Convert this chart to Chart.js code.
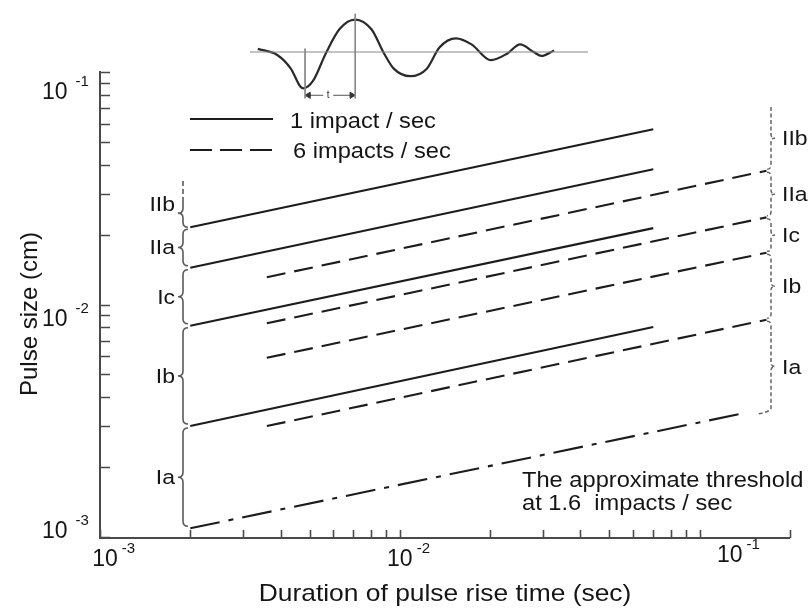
<!DOCTYPE html>
<html><head><meta charset="utf-8">
<script src="https://cdn.jsdelivr.net/npm/chart.js@4.4.1/dist/chart.umd.min.js"></script>
<style>
html,body{margin:0;padding:0;background:#fff;}
#wrap{position:relative;width:810px;height:608px;overflow:hidden;}
#mainWrap{position:absolute;left:0;top:0;width:810px;height:608px;}
#insetWrap{position:absolute;left:245px;top:0;width:350px;height:110px;}
</style></head><body>
<div id="wrap">
  <div id="mainWrap"><canvas id="main"></canvas></div>
  <div id="insetWrap"><canvas id="inset"></canvas></div>
</div>
<script>
// ================= DATA =================
const xRange = [0.001, 0.2];
const yRange = [0.001, 0.1];
const xTickValues = [0.001,0.002,0.003,0.004,0.005,0.006,0.007,0.008,0.009,
                     0.01,0.02,0.03,0.04,0.05,0.06,0.07,0.08,0.09,0.1,0.2];
const yTickValues = [0.001,0.002,0.003,0.004,0.005,0.006,0.007,0.008,0.009,
                     0.01,0.02,0.03,0.04,0.05,0.06,0.07,0.08,0.09,0.1];
const xLabelValues = [0.001, 0.01, 0.1];
const yLabelValues = [0.001, 0.01, 0.1];
const labelExponents = ['-3', '-2', '-1'];

const seriesNames = ['1 impact / sec', '6 impacts / sec'];
const zoneNames = ['Ia', 'Ib', 'Ic', 'IIa', 'IIb'];

// 1 impact / sec (solid) — start and end of each line
const solidX   = [0.002, 0.07];
const solidIb  = [0.0030, 0.0080];
const solidIc  = [0.0081, 0.0213];
const solidIIa = [0.0144, 0.0382];
const solidIIb = [0.0215, 0.0567];

// 6 impacts / sec (dashed)
const dashedX   = [0.0036, 0.167];
const dashedIb  = [0.0030, 0.0086];
const dashedIc  = [0.0059, 0.0167];
const dashedIIa = [0.0083, 0.0237];
const dashedIIb = [0.0131, 0.0376];

// threshold at 1.6 impacts / sec (dash-dot)
const thresholdX = [0.002, 0.139];
const thresholdY = [0.00109, 0.0034];
const thresholdText = ['The approximate threshold', 'at 1.6  impacts / sec'];

// upper ends of the zone brackets
const leftZoneTop = 0.034;
const rightZoneTop = 0.0707;

const axisTitleX = 'Duration of pulse rise time (sec)';
const axisTitleY = 'Pulse size (cm)';

// inset: pulse waveform (time, amplitude)
const waveT = [0.8, 2.8, 4.2, 5.2, 5.5, 6.5, 7.8, 9.2, 10.8, 12.5, 13.8, 14.8, 16.5,
               18.2, 19.5, 21.2, 22.8, 24.8, 26.5, 27.8, 29.2, 30.0, 31.3];
const waveA = [0.34, -0.33, -1.83, -3.83, -4.0, -3.16, -0.16, 2.5, 3.57, 2.5, -0.16, -1.83, -2.66,
               -1.83, 0.5, 1.5, 0.84, -0.9, -0.16, 0.84, 0.0, -0.43, 0.17];
const waveBaselineT = [0, 34.8];
const riseMarkT = [5.67, 10.83];
const riseLabel = 't';

// ================= DRAWING =================
const FONT = '"Liberation Sans", Arial, Helvetica, sans-serif';
const INK = '#151515';
const LINE = '#1c1c1c';
const AXIS = '#4a4a4a';
const mk = (xs, ys) => xs.map((x, i) => ({x: x, y: ys[i]}));

function txt(ctx, s, x, y, size, align, sx) {
  ctx.save();
  ctx.font = size + 'px ' + FONT;
  ctx.fillStyle = INK;
  ctx.textAlign = align || 'left';
  ctx.textBaseline = 'alphabetic';
  ctx.translate(x, y);
  ctx.scale(sx || 1, 1);
  ctx.fillText(s, 0, 0);
  ctx.restore();
}
function powLabel(ctx, exp, x, y, gap) {
  ctx.save();
  ctx.font = '23px ' + FONT;
  const w = ctx.measureText('10').width;
  ctx.restore();
  txt(ctx, '10', x, y, 23);
  txt(ctx, exp, x + w + gap, y - 13, 15);
  return w;
}
function brace(ctx, x, y1, y2, dir, w, opts) {
  opts = opts || {};
  const ym = (y1 + y2) / 2;
  const e = -dir;
  ctx.beginPath();
  if (opts.openTop) {
    ctx.moveTo(x, y1);
  } else {
    ctx.moveTo(x + e * w, y1);
    ctx.quadraticCurveTo(x, y1, x, y1 + w);
  }
  ctx.lineTo(x, ym - w);
  ctx.quadraticCurveTo(x, ym, x + dir * w, ym);
  ctx.quadraticCurveTo(x, ym, x, ym + w);
  ctx.lineTo(x, y2 - w);
  ctx.quadraticCurveTo(x, y2, x + e * (opts.hook || w), y2 + (opts.hook ? 2 : 0));
  ctx.stroke();
  return ym;
}

const decor = {
  id: 'decor',
  afterDatasetsDraw(chart) {
    const ctx = chart.ctx;
    const xs = chart.scales.x, ys = chart.scales.y;
    const X = v => xs.getPixelForValue(v), Y = v => ys.getPixelForValue(v);
    const L = xs.left, B = ys.bottom;

    // axes
    ctx.save();
    ctx.strokeStyle = AXIS; ctx.lineWidth = 2;
    ctx.beginPath();
    ctx.moveTo(L, ys.top - 1); ctx.lineTo(L, B + 1); ctx.lineTo(xs.right, B + 1);
    ctx.stroke();
    ctx.lineWidth = 1.6;
    ctx.beginPath();
    yTickValues.forEach(v => { const p = Math.round(Y(v)) + 0.5; ctx.moveTo(L, p); ctx.lineTo(L + 10, p); });
    xTickValues.forEach(v => { const p = Math.round(X(v)) + 0.5; ctx.moveTo(p, B + 1); ctx.lineTo(p, B - 7); });
    ctx.stroke();
    ctx.restore();

    // tick labels
    const yBaseNudge = [1, 21, 27];
    yLabelValues.forEach((v, i) => powLabel(ctx, labelExponents[i], 42, Y(v) + yBaseNudge[i], 8));
    const xCenterNudge = [5, 0, 30];
    const xBaseNudge = [0, 0, -4];
    xLabelValues.forEach((v, i) => {
      ctx.save(); ctx.font = '23px ' + FONT; const w = ctx.measureText('10').width; ctx.restore();
      powLabel(ctx, labelExponents[i], X(v) + xCenterNudge[i] - w / 2, 566 + xBaseNudge[i], 4);
    });

    // axis titles
    txt(ctx, axisTitleX, 445, 601, 24, 'center', 1.1);
    ctx.save();
    ctx.translate(37, 314); ctx.rotate(-Math.PI / 2);
    txt(ctx, axisTitleY, 0, 0, 24, 'center');
    ctx.restore();

    // legend
    ctx.save();
    ctx.strokeStyle = LINE; ctx.lineWidth = 2;
    ctx.beginPath(); ctx.moveTo(190, 119); ctx.lineTo(273, 119); ctx.stroke();
    ctx.setLineDash([22, 8]);
    ctx.beginPath(); ctx.moveTo(190, 150); ctx.lineTo(273, 150); ctx.stroke();
    ctx.restore();
    txt(ctx, seriesNames[0], 290, 128, 21.5, 'left', 1.1);
    txt(ctx, seriesNames[1], 293, 158, 21.5, 'left', 1.1);

    // threshold note
    txt(ctx, thresholdText[0], 522, 487, 21.5, 'left', 1.1);
    txt(ctx, thresholdText[1], 522, 510, 21.5, 'left', 1.1);

    // left brackets
    const leftB = [thresholdY[0], solidIb[0], solidIc[0], solidIIa[0], solidIIb[0], leftZoneTop];
    const lx = 183;
    ctx.save();
    ctx.strokeStyle = '#5a5a5a'; ctx.lineWidth = 1.6;
    for (let i = 0; i < zoneNames.length; i++) {
      const y1 = Y(leftB[i + 1]), y2 = Y(leftB[i]);
      let ym;
      if (i === zoneNames.length - 1) {
        ym = (y1 + y2) / 2;
        ctx.save(); ctx.setLineDash([5, 3]);
        ctx.beginPath(); ctx.moveTo(lx, y1); ctx.lineTo(lx, ym - 5); ctx.stroke();
        ctx.restore();
        brace(ctx, lx, ym - 5, y2, -1, 5, {openTop: true});
      } else {
        ym = brace(ctx, lx, y1 + 2, y2 - 2, -1, 5);
      }
      txt(ctx, zoneNames[i], 175, ym + 7, 20.5, 'right', 1.12);
    }
    ctx.restore();

    // right brackets
    const rightB = [thresholdY[1], dashedIb[1], dashedIc[1], dashedIIa[1], dashedIIb[1], rightZoneTop];
    const rx = 771;
    ctx.save();
    ctx.strokeStyle = '#666'; ctx.lineWidth = 1.5; ctx.setLineDash([4, 2.5]);
    for (let i = 0; i < zoneNames.length; i++) {
      const y1 = Y(rightB[i + 1]), y2 = Y(rightB[i]);
      const top = i === zoneNames.length - 1;
      const ym = brace(ctx, rx, y1 + (top ? 0 : 1.5), y2 - 1.5, 1, 4,
                       {openTop: top, hook: i === 0 ? 14 : 0});
      txt(ctx, zoneNames[i], 782, ym + 7, 20.5, 'left', 1.12);
    }
    ctx.restore();
  }
};

const solidStyle = {borderColor: LINE, borderWidth: 2.1, pointRadius: 0, tension: 0, fill: false};
const dashedStyle = Object.assign({}, solidStyle, {borderDash: [19, 9]});

new Chart(document.getElementById('main'), {
  type: 'line',
  data: {
    datasets: [
      Object.assign({label: seriesNames[0] + ' IIb', data: mk(solidX, solidIIb)}, solidStyle),
      Object.assign({label: seriesNames[0] + ' IIa', data: mk(solidX, solidIIa)}, solidStyle),
      Object.assign({label: seriesNames[0] + ' Ic',  data: mk(solidX, solidIc)}, solidStyle),
      Object.assign({label: seriesNames[0] + ' Ib',  data: mk(solidX, solidIb)}, solidStyle),
      Object.assign({label: seriesNames[1] + ' IIb', data: mk(dashedX, dashedIIb)}, dashedStyle),
      Object.assign({label: seriesNames[1] + ' IIa', data: mk(dashedX, dashedIIa)}, dashedStyle),
      Object.assign({label: seriesNames[1] + ' Ic',  data: mk(dashedX, dashedIc)}, dashedStyle),
      Object.assign({label: seriesNames[1] + ' Ib',  data: mk(dashedX, dashedIb)}, dashedStyle),
      Object.assign({label: 'threshold', data: mk(thresholdX, thresholdY)}, solidStyle, {borderDash: [30, 9, 5, 9]})
    ]
  },
  options: {
    responsive: true, maintainAspectRatio: false, animation: false, devicePixelRatio: 1,
    events: [],
    layout: {padding: {left: 100, right: 20, top: 72, bottom: 71}},
    plugins: {legend: {display: false}, tooltip: {enabled: false}, title: {display: false}},
    scales: {
      x: {type: 'logarithmic', min: xRange[0], max: xRange[1], display: false},
      y: {type: 'logarithmic', min: yRange[0], max: yRange[1], display: false}
    }
  },
  plugins: [decor]
});

// ---------- inset waveform ----------
const insetLabel = {
  id: 'insetLabel',
  afterDatasetsDraw(chart) {
    const ctx = chart.ctx, xs = chart.scales.x, ys = chart.scales.y;
    const px = xs.getPixelForValue((riseMarkT[0] + riseMarkT[1]) / 2 - 0.2);
    const py = ys.getPixelForValue(-4.76);
    ctx.save();
    ctx.fillStyle = '#fff'; ctx.fillRect(px - 5, py - 4, 10, 8);
    ctx.font = '10px ' + FONT; ctx.fillStyle = '#333'; ctx.textAlign = 'center'; ctx.textBaseline = 'middle';
    ctx.fillText(riseLabel, px, py);
    ctx.restore();
  }
};
const thin = {borderColor: '#888', borderWidth: 1, pointRadius: 0, tension: 0, fill: false};
new Chart(document.getElementById('inset'), {
  type: 'line',
  data: {
    datasets: [
      Object.assign({data: mk(waveBaselineT, [0, 0])}, thin),
      Object.assign({data: [{x: riseMarkT[0], y: 0.37}, {x: riseMarkT[0], y: -5.1}]}, thin),
      Object.assign({data: [{x: riseMarkT[1], y: 4.2}, {x: riseMarkT[1], y: -5.1}]}, thin),
      Object.assign({data: [{x: riseMarkT[0] + 0.35, y: -4.76}, {x: riseMarkT[1] - 0.35, y: -4.76}]}, thin,
        {borderColor: '#555', pointRadius: 3.5, pointStyle: 'triangle', rotation: [-90, 90],
         pointBackgroundColor: '#333', pointBorderColor: '#333'}),
      {data: mk(waveT, waveA), borderColor: '#2a2a2a', borderWidth: 2.2, pointRadius: 0,
       cubicInterpolationMode: 'monotone', fill: false}
    ]
  },
  options: {
    responsive: true, maintainAspectRatio: false, animation: false, devicePixelRatio: 1,
    events: [],
    layout: {padding: 0},
    plugins: {legend: {display: false}, tooltip: {enabled: false}},
    scales: {
      x: {type: 'linear', min: 0, max: 35, display: false},
      y: {type: 'linear', min: -5.83, max: 5.17, display: false}
    }
  },
  plugins: [insetLabel]
});
</script>
</body></html>
